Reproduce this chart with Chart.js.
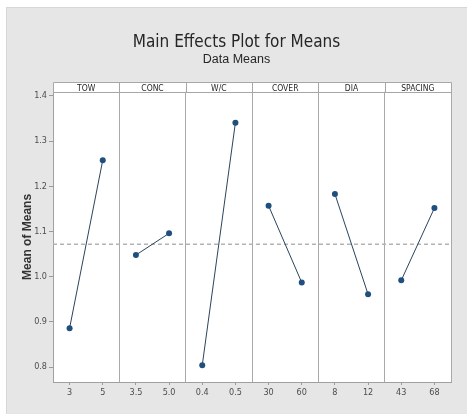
<!DOCTYPE html>
<html>
<head>
<meta charset="utf-8">
<title>Main Effects Plot for Means</title>
<script src="https://cdn.jsdelivr.net/npm/chart.js@4.4.1/dist/chart.umd.min.js"></script>
<style>
  html, body { margin: 0; padding: 0; background: #ffffff; }
  #frame {
    position: absolute; left: 6px; top: 7px; width: 461px; height: 407px;
    background: #e6e6e6; box-sizing: border-box;
    border-left: 1px solid #d7d7d7; border-top: 1px solid #d7d7d7;
  }
  #c { position: absolute; left: -1px; top: -1px; display: block; }
</style>
</head>
<body>
<div id="frame"><canvas id="c" width="461" height="407"></canvas></div>
<script>
// Factors and their two levels
const factors = ['TOW', 'CONC', 'W/C', 'COVER', 'DIA', 'SPACING'];
const towLevels = ['3', '5'];
const concLevels = ['3.5', '5.0'];
const wcLevels = ['0.4', '0.5'];
const coverLevels = ['30', '60'];
const diaLevels = ['8', '12'];
const spacingLevels = ['43', '68'];

// Mean of means at each level
const towMeans = [0.886, 1.258];
const concMeans = [1.048, 1.096];
const wcMeans = [0.804, 1.341];
const coverMeans = [1.157, 0.987];
const diaMeans = [1.183, 0.961];
const spacingMeans = [0.992, 1.152];

// Overall mean (dashed reference line)
const grandMean = 1.072;

// Y axis ticks
const yTicks = [0.8, 0.9, 1.0, 1.1, 1.2, 1.3, 1.4];

const levelSets = [towLevels, concLevels, wcLevels, coverLevels, diaLevels, spacingLevels];
const meanSets = [towMeans, concMeans, wcMeans, coverMeans, diaMeans, spacingMeans];

const NARROW = "'Liberation Sans Narrow', 'DejaVu Sans Condensed', 'Arial Narrow', sans-serif";
const HEADER_H = 10;
const panelCount = factors.length;

// Each panel spans two units on the shared x scale; levels sit at .5 and 1.5
const datasets = factors.map((name, i) => ({
  label: name,
  data: meanSets[i].map((v, j) => ({ x: 2 * i + 0.5 + j, y: v })),
  borderColor: '#2b445c',
  borderWidth: 1,
  pointRadius: 3,
  pointHoverRadius: 3,
  pointBackgroundColor: '#1f4f7d',
  pointBorderColor: '#1f4f7d',
  pointBorderWidth: 0,
  order: 1
}));

datasets.push({
  label: 'Mean',
  data: [{ x: 0, y: grandMean }, { x: 2 * panelCount, y: grandMean }],
  borderColor: '#b4b4b4',
  borderWidth: 1.5,
  borderDash: [4, 3],
  pointRadius: 0,
  order: 2
});

// Panel backgrounds and the factor header strip above each panel
const panelFrames = {
  id: 'panelFrames',
  beforeDraw(chart) {
    const { ctx, chartArea } = chart;
    const xs = chart.scales.x;
    const left = xs.getPixelForValue(0);
    const right = xs.getPixelForValue(2 * panelCount);
    ctx.save();
    ctx.fillStyle = '#ffffff';
    ctx.fillRect(left, chartArea.top - HEADER_H, right - left, chartArea.bottom - chartArea.top + HEADER_H);
    ctx.restore();
  },
  afterDraw(chart) {
    const { ctx, chartArea } = chart;
    const xs = chart.scales.x;
    const top = chartArea.top - HEADER_H;
    ctx.save();
    ctx.strokeStyle = '#a6a6a6';
    ctx.lineWidth = 1;
    ctx.beginPath();
    const l = Math.round(xs.getPixelForValue(0)) + 0.5;
    const r = Math.round(xs.getPixelForValue(2 * panelCount)) + 0.5;
    ctx.moveTo(l, Math.round(top) + 0.5);
    ctx.lineTo(r, Math.round(top) + 0.5);
    ctx.moveTo(l, Math.round(chartArea.top) + 0.5);
    ctx.lineTo(r, Math.round(chartArea.top) + 0.5);
    for (let i = 0; i <= panelCount; i++) {
      const x = Math.round(xs.getPixelForValue(2 * i)) + 0.5;
      ctx.moveTo(x, Math.round(top) + 0.5);
      ctx.lineTo(x, Math.round(chartArea.top) + 0.5);
    }
    ctx.stroke();
    ctx.restore();
  }
};

new Chart(document.getElementById('c'), {
  type: 'line',
  data: { datasets },
  plugins: [panelFrames],
  options: {
    responsive: false,
    animation: false,
    events: [],
    layout: { padding: { left: 0, right: 0, top: 0, bottom: 0 } },
    plugins: {
      legend: { display: false },
      tooltip: { enabled: false },
      title: {
        display: true,
        text: 'Main Effects Plot for Means',
        color: '#262626',
        font: { family: NARROW, size: 17, weight: 'normal' },
        padding: { top: 25, bottom: 0 }
      },
      subtitle: {
        display: true,
        text: 'Data Means',
        color: '#262626',
        font: { family: "'Liberation Sans', Arial, sans-serif", size: 12.5, weight: 'normal' },
        padding: { top: 0, bottom: 14.5 }
      }
    },
    scales: {
      x: {
        type: 'linear',
        position: 'bottom',
        min: 0,
        max: 2 * panelCount,
        afterBuildTicks(scale) {
          const t = [];
          for (let i = 0; i < panelCount; i++) {
            t.push({ value: 2 * i }, { value: 2 * i + 0.5 }, { value: 2 * i + 1.5 });
          }
          t.push({ value: 2 * panelCount });
          scale.ticks = t;
        },
        afterFit(scale) { scale.height = 32; },
        grid: {
          drawOnChartArea: true,
          color: (c) => (c.tick && c.tick.value % 2 === 0) ? '#a9a9a9' : 'rgba(0,0,0,0)',
          tickColor: (c) => (c.tick && c.tick.value % 2 === 0) ? 'rgba(0,0,0,0)' : '#9a9a9a',
          tickLength: 3,
          lineWidth: 1
        },
        border: { display: true, color: '#a0a0a0' },
        ticks: {
          autoSkip: false,
          maxRotation: 0,
          padding: 2,
          color: '#4d4d4d',
          font: { family: NARROW, size: 9 },
          callback(value) {
            if (value % 2 === 0) return '';
            const panel = Math.floor(value / 2);
            const lvl = value - 2 * panel > 1 ? 1 : 0;
            return levelSets[panel][lvl];
          }
        }
      },
      xTop: {
        type: 'linear',
        position: 'top',
        min: 0,
        max: 2 * panelCount,
        afterBuildTicks(scale) {
          scale.ticks = factors.map((f, i) => ({ value: 2 * i + 1 }));
        },
        afterFit(scale) { scale.height = HEADER_H; },
        grid: { display: false, drawTicks: false },
        border: { display: false },
        ticks: {
          autoSkip: false,
          maxRotation: 0,
          padding: -1.5,
          color: '#262626',
          font: { family: NARROW, size: 8.5 },
          callback(value) { return factors[Math.round((value - 1) / 2)]; }
        }
      },
      y: {
        type: 'linear',
        position: 'left',
        min: 0.767,
        max: 1.409,
        afterBuildTicks(scale) {
          scale.ticks = yTicks.map(v => ({ value: v }));
        },
        afterFit(scale) { scale.width = 47; },
        grid: { drawOnChartArea: false, tickLength: 4, tickColor: '#9a9a9a' },
        border: { display: true, color: '#a0a0a0' },
        ticks: {
          padding: 2,
          color: '#4d4d4d',
          font: { family: NARROW, size: 9 },
          callback(value) { return Number(value).toFixed(1); }
        },
        title: {
          display: true,
          text: 'Mean of Means',
          color: '#333333',
          font: { family: "'Liberation Sans', Arial, sans-serif", size: 12, weight: 'bold' },
          padding: { top: 14, bottom: 0 }
        }
      },
      yRight: {
        type: 'linear',
        position: 'right',
        min: 0,
        max: 1,
        afterFit(scale) { scale.width = 16; },
        grid: { display: false, drawTicks: false },
        border: { display: false },
        ticks: { display: false }
      }
    }
  }
});
</script>
</body>
</html>
